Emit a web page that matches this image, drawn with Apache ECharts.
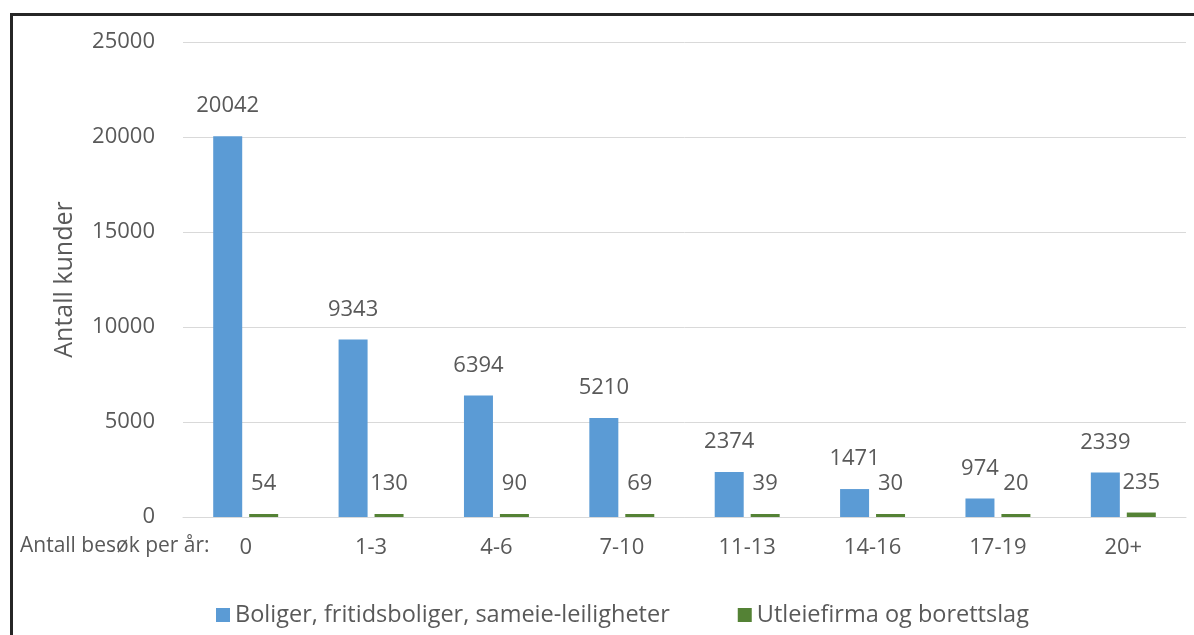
<!DOCTYPE html>
<html>
<head>
<meta charset="utf-8">
<script src="https://cdn.jsdelivr.net/npm/echarts@6/dist/echarts.min.js"></script>
<style>
html,body{margin:0;padding:0;background:#fff;}
#chart{width:1194px;height:635px;}
</style>
</head>
<body>
<div id="chart"></div>
<script>
const categories = ['0', '1-3', '4-6', '7-10', '11-13', '14-16', '17-19', '20+'];
const seriesNames = ['Boliger, fritidsboliger, sameie-leiligheter', 'Utleiefirma og borettslag'];
const boliger = [20042, 9343, 6394, 5210, 2374, 1471, 974, 2339];
const utleie = [54, 130, 90, 69, 39, 30, 20, 235];
const yTicks = [0, 5000, 10000, 15000, 20000, 25000];

const FONT = '"Open Sans", "Noto Sans", sans-serif';
const TXT = '#595959';

const chart = echarts.init(document.getElementById('chart'), null, {renderer: 'canvas'});
const labelStyle = {
  show: true, position: 'top', distance: 19,
  color: TXT, fontFamily: FONT, fontSize: 22
};
chart.setOption({
  animation: false,
  backgroundColor: '#fff',
  grid: {left: 183, right: 8, top: 42, bottom: 118, containLabel: false},
  legend: {
    top: 598, left: 211,
    itemWidth: 14, itemHeight: 14, itemGap: 68,
    icon: 'rect',
    textStyle: {color: TXT, fontFamily: FONT, fontSize: 23.5},
    data: seriesNames
  },
  xAxis: {
    type: 'category',
    data: categories,
    axisLine: {show: true, lineStyle: {color: '#d9d9d9', width: 1}},
    axisTick: {show: false},
    axisLabel: {color: TXT, fontFamily: FONT, fontSize: 22, margin: 20}
  },
  yAxis: {
    type: 'value',
    min: yTicks[0], max: yTicks[yTicks.length - 1], interval: yTicks[1] - yTicks[0],
    name: 'Antall kunder',
    nameLocation: 'middle', nameGap: 106, nameRotate: 90,
    nameTextStyle: {color: TXT, fontFamily: FONT, fontSize: 25},
    axisLine: {show: false}, axisTick: {show: false},
    axisLabel: {color: TXT, fontFamily: FONT, fontSize: 22, margin: 28, formatter: v => String(v)},
    splitLine: {lineStyle: {color: '#d9d9d9', width: 1}}
  },
  series: [
    {
      name: seriesNames[0], type: 'bar', data: boliger,
      barWidth: 29, barGap: '24%',
      itemStyle: {color: '#5b9bd5'},
      label: labelStyle
    },
    {
      name: seriesNames[1], type: 'bar', data: utleie,
      barWidth: 29, barMinHeight: 3,
      itemStyle: {color: '#548235'},
      label: labelStyle
    }
  ],
  graphic: [
    {type: 'rect', shape: {x: 10, y: 13, width: 1184, height: 3}, style: {fill: '#262626'}},
    {type: 'rect', shape: {x: 10, y: 13, width: 3, height: 622}, style: {fill: '#262626'}},
    {type: 'text', left: 20, top: 536, style: {text: 'Antall besøk per år:', fill: TXT, font: '21px ' + FONT}}
  ]
});
</script>
</body>
</html>
